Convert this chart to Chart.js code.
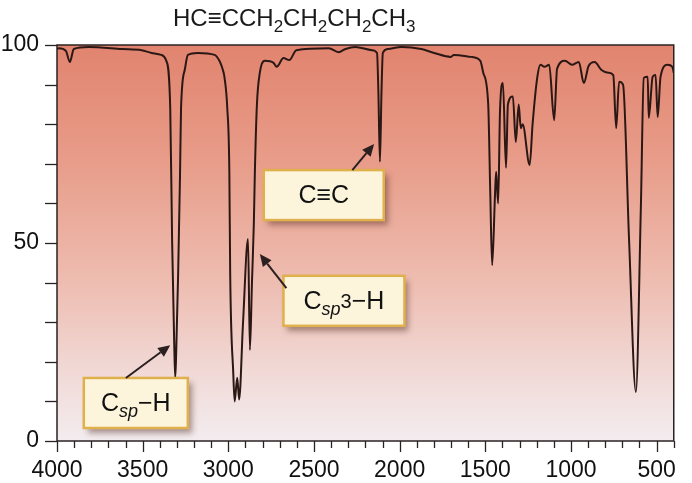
<!DOCTYPE html>
<html>
<head>
<meta charset="utf-8">
<script src="https://cdn.jsdelivr.net/npm/chart.js@4.4.0/dist/chart.umd.min.js"></script>
<style>
  html, body { margin: 0; padding: 0; background: #ffffff; }
  #wrap { position: relative; width: 692px; height: 483px; }
</style>
</head>
<body>
<div id="wrap"><canvas id="ir" width="692" height="483"></canvas></div>
<script>
// IR spectrum of 1-hexyne (wavenumber cm-1, % transmittance)
const wavenumbers = [
  4000, 3989, 3948, 3925, 3902, 3816, 3621, 3506, 3448, 3391,
  3362, 3339, 3328, 3316, 3310, 3305, 3293, 3282, 3276, 3253,
  3236, 3178, 3080, 3052, 3034, 3023, 3006, 2994, 2989, 2971,
  2963, 2948, 2937, 2914, 2885, 2874, 2862, 2851, 2845, 2833,
  2816, 2787, 2736, 2718, 2678, 2644, 2603, 2414, 2356, 2316,
  2259, 2161, 2132, 2124, 2115, 2106, 2098, 2069, 1989, 1874,
  1799, 1701, 1684, 1586, 1529, 1512, 1483, 1471, 1460, 1443,
  1437, 1425, 1414, 1397, 1379, 1368, 1339, 1322, 1305, 1293,
  1282, 1241, 1224, 1196, 1178, 1155, 1127, 1098, 1081, 1035,
  994, 954, 925, 897, 862, 822, 782, 753, 736, 719,
  696, 661, 621, 592, 575, 552, 546, 523, 506, 494,
  477, 437, 408, 400
];
const transmittance = [
  99, 99.2, 98.5, 95.7, 99, 99.5, 99, 98.7, 98, 97.5,
  96, 84, 50.5, 25, 16, 21, 42, 67, 84, 94,
  97.5, 98, 97.5, 96, 94, 92, 84, 68, 42, 17,
  10, 16, 10.5, 30, 51, 23, 40, 55, 68, 85,
  93, 96, 95.5, 94.5, 96.7, 96.2, 98.7, 99.2, 98.2, 99,
  99.5, 98.7, 98, 88, 70.5, 88, 98, 99, 99.5, 99,
  98, 97, 97.5, 97, 96, 93, 85, 62.6, 44.4, 62.6,
  68, 60, 83.6, 90.4, 69, 85, 87, 75.5, 85, 79,
  80, 69.7, 80, 92, 95, 94.5, 95, 81, 94, 96,
  95, 95.7, 90.4, 94.7, 95.7, 93.7, 93, 92.4, 79, 90.7,
  90, 51, 12.4, 59, 91.7, 92, 81.6, 92, 92.4, 81.8,
  92, 95, 94.5, 93
];
const xTickLabels = [4000, 3500, 3000, 2500, 2000, 1500, 1000, 500];
const yTickLabels = [0, 50, 100];

// callouts: box centre and arrow in data units (cm-1, %T)
const calloutNames = ['C≡C', 'Csp3–H', 'Csp–H'];
const calloutBoxX = [2443, 2325, 3540];
const calloutBoxY = [62.1, 35.4, 9.6];
const calloutBoxW = [120, 121, 104];
const arrowFromX = [2276, 2661, 3598];
const arrowFromY = [68.4, 38.6, 15.9];
const arrowToX = [2149, 2816, 3339];
const arrowToY = [75, 47.2, 24.2];

const FONT = '"Liberation Sans", Arial, Helvetica, sans-serif';

function drawRuns(ctx, runs, x, y) {
  // runs: [text, size, dy, italic]
  let cx = x;
  runs.forEach(r => {
    ctx.font = (r[3] ? 'italic ' : '') + r[1] + 'px ' + FONT;
    ctx.fillText(r[0], cx, y + r[2]);
    cx += ctx.measureText(r[0]).width;
  });
  return cx - x;
}
function runsWidth(ctx, runs) {
  let w = 0;
  runs.forEach(r => {
    ctx.font = (r[3] ? 'italic ' : '') + r[1] + 'px ' + FONT;
    w += ctx.measureText(r[0]).width;
  });
  return w;
}

function calloutRuns(name) {
  if (name === 'Csp3–H') return [['C', 25, 0], ['sp', 18, 6, true], ['3', 20, -1], ['−H', 25, 0]];
  if (name === 'Csp–H') return [['C', 25, 0], ['sp', 18, 6, true], ['−H', 25, 0]];
  return [[name, 25, 0]];
}

function arrow(ctx, x1, y1, x2, y2) {
  const a = Math.atan2(y2 - y1, x2 - x1);
  const hl = 12, hw = 5.5;
  const bx = x2 - hl * Math.cos(a), by = y2 - hl * Math.sin(a);
  ctx.beginPath();
  ctx.moveTo(x1, y1);
  ctx.lineTo(bx, by);
  ctx.stroke();
  ctx.beginPath();
  ctx.moveTo(x2, y2);
  ctx.lineTo(bx + hw * Math.sin(a), by - hw * Math.cos(a));
  ctx.lineTo(bx - hw * Math.sin(a), by + hw * Math.cos(a));
  ctx.closePath();
  ctx.fill();
}

const overlay = {
  id: 'overlay',
  beforeDatasetsDraw(chart) {
    const { ctx, chartArea: a } = chart;
    const g = ctx.createLinearGradient(0, a.top, 0, a.bottom);
    g.addColorStop(0, '#e1846f');
    g.addColorStop(0.3, '#e89d8a');
    g.addColorStop(0.6, '#eebdb1');
    g.addColorStop(0.85, '#f1dcda');
    g.addColorStop(1, '#f3ecef');
    ctx.save();
    ctx.fillStyle = g;
    ctx.fillRect(a.left, a.top, a.right - a.left, a.bottom - a.top);
    ctx.restore();
  },
  afterDraw(chart) {
    const { ctx, chartArea: a } = chart;
    const xs = chart.scales.x, ys = chart.scales.y;
    ctx.save();
    // frame
    ctx.strokeStyle = '#2a2222';
    ctx.lineWidth = 1.5;
    ctx.strokeRect(a.left, a.top, a.right - a.left, a.bottom - a.top);
    // x ticks every 100
    ctx.lineWidth = 1.3;
    for (let v = 4000; v >= 400; v -= 100) {
      const px = Math.round(xs.getPixelForValue(v)) + 0.5;
      const len = v % 500 === 0 ? 11 : 7;
      ctx.beginPath();
      ctx.moveTo(px, a.bottom);
      ctx.lineTo(px, a.bottom + len);
      ctx.stroke();
    }
    // y ticks every 10
    for (let v = 0; v <= 100; v += 10) {
      const py = Math.round(ys.getPixelForValue(v)) + 0.5;
      ctx.beginPath();
      ctx.moveTo(a.left - 12, py);
      ctx.lineTo(a.left, py);
      ctx.stroke();
    }
    // title
    ctx.fillStyle = '#1a1a1a';
    ctx.textBaseline = 'alphabetic';
    ctx.textAlign = 'left';
    drawRuns(ctx, [['HC≡CCH', 24, 0], ['2', 17, 6], ['CH', 24, 0], ['2', 17, 6],
                   ['CH', 24, 0], ['2', 17, 6], ['CH', 24, 0], ['3', 17, 6]], 173, 26);
    // callouts
    calloutNames.forEach((name, i) => {
      const cx = xs.getPixelForValue(calloutBoxX[i]);
      const cy = ys.getPixelForValue(calloutBoxY[i]);
      const w = calloutBoxW[i], h = 50;
      ctx.save();
      ctx.shadowColor = 'rgba(70,35,25,0.45)';
      ctx.shadowBlur = 6;
      ctx.shadowOffsetX = 4;
      ctx.shadowOffsetY = 5;
      ctx.fillStyle = '#fcf5dc';
      ctx.fillRect(cx - w / 2, cy - h / 2, w, h);
      ctx.restore();
      ctx.strokeStyle = '#dfb04c';
      ctx.lineWidth = 2.5;
      ctx.strokeRect(cx - w / 2, cy - h / 2, w, h);
      const runs = calloutRuns(name);
      const tw = runsWidth(ctx, runs);
      ctx.fillStyle = '#111';
      drawRuns(ctx, runs, cx - tw / 2, cy + 8);
      ctx.strokeStyle = '#2a2020';
      ctx.fillStyle = '#2a2020';
      ctx.lineWidth = 2;
      arrow(ctx, xs.getPixelForValue(arrowFromX[i]), ys.getPixelForValue(arrowFromY[i]),
                 xs.getPixelForValue(arrowToX[i]), ys.getPixelForValue(arrowToY[i]));
    });
    ctx.restore();
  }
};

new Chart(document.getElementById('ir'), {
  type: 'line',
  data: {
    datasets: [{
      data: wavenumbers.map((w, i) => ({ x: w, y: transmittance[i] })),
      borderColor: '#2b1815',
      borderWidth: 2,
      pointRadius: 0,
      cubicInterpolationMode: 'monotone',
      fill: false
    }]
  },
  options: {
    responsive: false,
    animation: false,
    layout: { padding: { top: 45, right: 7, left: 0, bottom: 0 } },
    plugins: { legend: { display: false }, tooltip: { enabled: false } },
    scales: {
      x: {
        type: 'linear',
        reverse: true,
        min: 400,
        max: 4000,
        grid: { display: false, drawTicks: false },
        border: { display: false },
        afterBuildTicks: s => { s.ticks = xTickLabels.map(v => ({ value: v })); },
        afterFit: s => { s.height = 42; },
        ticks: {
          autoSkip: false,
          maxRotation: 0,
          padding: 16,
          color: '#111',
          font: { family: FONT, size: 23 },
          callback: v => String(v)
        }
      },
      y: {
        min: 0,
        max: 100,
        grid: { display: false, drawTicks: false },
        border: { display: false },
        afterBuildTicks: s => { s.ticks = yTickLabels.map(v => ({ value: v })); },
        afterFit: s => { s.width = 57; },
        ticks: {
          padding: 18,
          color: '#111',
          font: { family: FONT, size: 23 },
          callback: v => String(v)
        }
      }
    }
  },
  plugins: [overlay]
});
</script>
</body>
</html>
